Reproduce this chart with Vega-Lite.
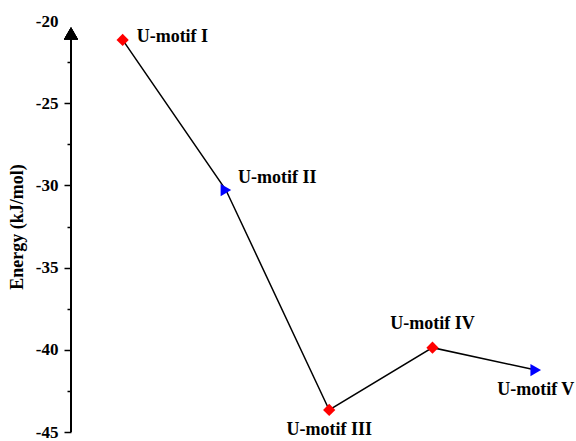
{
  "$schema": "https://vega.github.io/schema/vega-lite/v6.json",
  "width": 504,
  "height": 411,
  "autosize": {"type": "none"},
  "padding": {"left": 71, "top": 21, "right": 1, "bottom": 9},
  "background": "white",
  "config": {"view": {"stroke": null}},
  "data": {
    "values": [
      {"motif": "U-motif I", "x": 1, "energy": -21.15, "group": "A"},
      {"motif": "U-motif II", "x": 2, "energy": -30.28, "group": "B"},
      {"motif": "U-motif III", "x": 3, "energy": -43.66, "group": "A"},
      {"motif": "U-motif IV", "x": 4, "energy": -39.87, "group": "A"},
      {"motif": "U-motif V", "x": 5, "energy": -41.23, "group": "B"}
    ]
  },
  "encoding": {
    "x": {"field": "x", "type": "quantitative", "scale": {"domain": [0.5, 5.38], "nice": false, "zero": false}, "axis": null},
    "y": {
      "field": "energy", "type": "quantitative",
      "scale": {"domain": [-45, -20], "nice": false, "zero": false},
      "axis": {
        "title": "Energy (kJ/mol)",
        "values": [-45, -42.5, -40, -37.5, -35, -32.5, -30, -27.5, -25, -22.5, -20],
        "domain": false,
        "grid": false,
        "labelExpr": "datum.value % 5 == 0 ? '' + datum.value : ''",
        "labelOverlap": false,
        "labelFont": "Liberation Serif",
        "labelFontWeight": "bold",
        "labelFontSize": 17,
        "labelColor": "black",
        "labelPadding": 6,
        "tickSize": {"condition": {"test": "datum.value % 5 == 0", "value": 7}, "value": 4},
        "tickColor": {"condition": {"test": "datum.value == -20", "value": "transparent"}, "value": "black"},
        "tickWidth": 1.5,
        "titleFont": "Liberation Serif",
        "titleFontSize": 18,
        "titleFontWeight": "bold",
        "titleColor": "black",
        "titlePadding": 9
      }
    }
  },
  "layer": [
    {
      "mark": {"type": "line", "color": "black", "strokeWidth": 1.5},
      "encoding": {"order": {"field": "x", "type": "quantitative"}}
    },
    {
      "mark": {"type": "point", "filled": true, "opacity": 1, "size": 150},
      "encoding": {
        "shape": {"field": "group", "type": "nominal", "scale": {"domain": ["A", "B"], "range": ["diamond", "triangle-right"]}, "legend": null},
        "color": {"field": "group", "type": "nominal", "scale": {"domain": ["A", "B"], "range": ["#ff0000", "#0000ff"]}, "legend": null}
      }
    },
    {
      "mark": {"type": "rule", "color": "black", "strokeWidth": 1.7},
      "encoding": {
        "x": {"datum": 0.5, "type": "quantitative"},
        "y": {"datum": -45, "type": "quantitative"},
        "y2": {"datum": -20.7}
      }
    },
    {
      "mark": {"type": "point", "shape": "triangle-up", "filled": true, "color": "black", "opacity": 1, "size": 200},
      "encoding": {
        "x": {"datum": 0.5, "type": "quantitative"},
        "y": {"datum": -20.75, "type": "quantitative"}
      }
    },
    {
      "transform": [{"filter": "datum.motif == 'U-motif I'"}],
      "mark": {"type": "text", "align": "left", "baseline": "middle", "dx": 14, "dy": -3, "font": "Liberation Serif", "fontWeight": "bold", "fontSize": 18, "color": "black"},
      "encoding": {"text": {"field": "motif"}}
    },
    {
      "transform": [{"filter": "datum.motif == 'U-motif II'"}],
      "mark": {"type": "text", "align": "left", "baseline": "middle", "dx": 12, "dy": -12, "font": "Liberation Serif", "fontWeight": "bold", "fontSize": 18, "color": "black"},
      "encoding": {"text": {"field": "motif"}}
    },
    {
      "transform": [{"filter": "datum.motif == 'U-motif III' || datum.motif == 'U-motif V'"}],
      "mark": {"type": "text", "align": "center", "baseline": "middle", "dy": 20, "font": "Liberation Serif", "fontWeight": "bold", "fontSize": 18, "color": "black"},
      "encoding": {"text": {"field": "motif"}}
    },
    {
      "transform": [{"filter": "datum.motif == 'U-motif IV'"}],
      "mark": {"type": "text", "align": "center", "baseline": "middle", "dy": -24, "font": "Liberation Serif", "fontWeight": "bold", "fontSize": 18, "color": "black"},
      "encoding": {"text": {"field": "motif"}}
    }
  ]
}
